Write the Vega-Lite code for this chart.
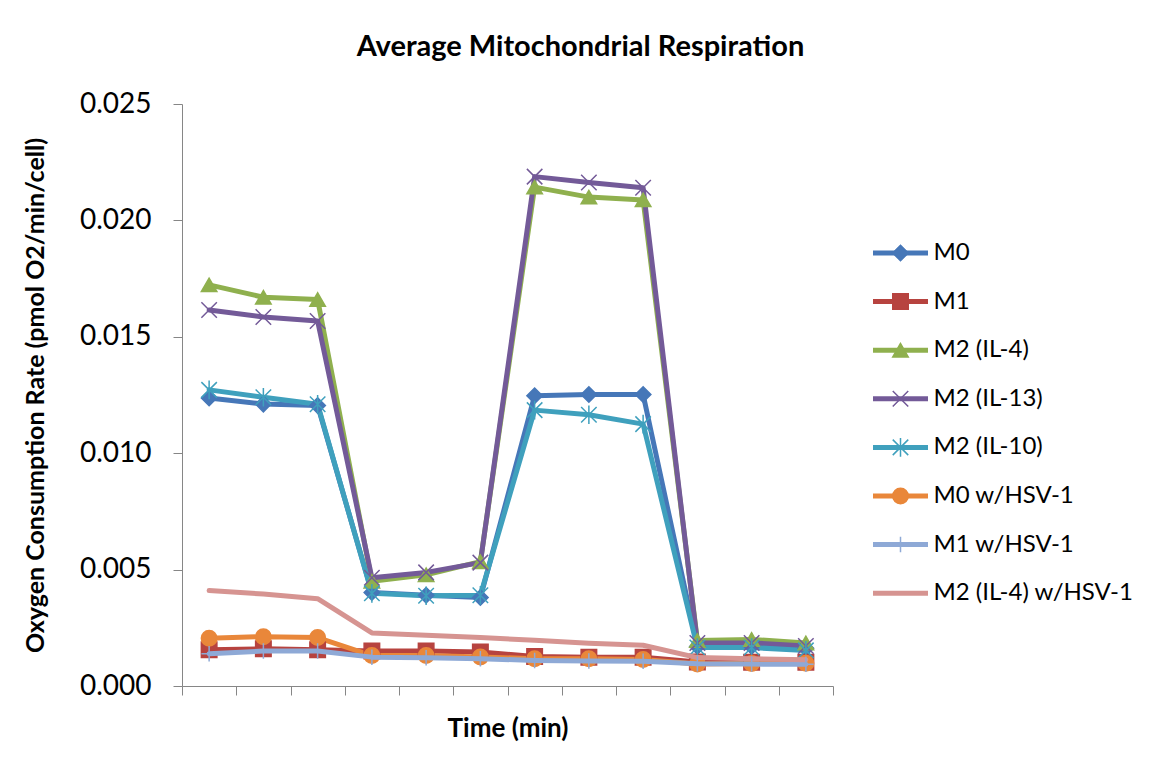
{
  "$schema": "https://vega.github.io/schema/vega-lite/v6.json",
  "width": 651,
  "height": 582,
  "autosize": "none",
  "padding": {"left": 182, "top": 104, "right": 322, "bottom": 86},
  "background": "white",
  "title": {"text": "Average Mitochondrial Respiration", "font": "Lato", "fontSize": 29, "fontWeight": "bold", "color": "#000000", "anchor": "middle", "dx": 73, "offset": 28},
  "data": {"values": [
    {"s": "M0", "t": 1, "v": 0.01237}, {"s": "M0", "t": 2, "v": 0.01211}, {"s": "M0", "t": 3, "v": 0.01205}, {"s": "M0", "t": 4, "v": 0.00402}, {"s": "M0", "t": 5, "v": 0.0039}, {"s": "M0", "t": 6, "v": 0.0038}, {"s": "M0", "t": 7, "v": 0.01247}, {"s": "M0", "t": 8, "v": 0.01252}, {"s": "M0", "t": 9, "v": 0.01252}, {"s": "M0", "t": 10, "v": 0.0017}, {"s": "M0", "t": 11, "v": 0.0017}, {"s": "M0", "t": 12, "v": 0.00162},
    {"s": "M1", "t": 1, "v": 0.00156}, {"s": "M1", "t": 2, "v": 0.0016}, {"s": "M1", "t": 3, "v": 0.00156}, {"s": "M1", "t": 4, "v": 0.0015}, {"s": "M1", "t": 5, "v": 0.0015}, {"s": "M1", "t": 6, "v": 0.00146}, {"s": "M1", "t": 7, "v": 0.00127}, {"s": "M1", "t": 8, "v": 0.00124}, {"s": "M1", "t": 9, "v": 0.00124}, {"s": "M1", "t": 10, "v": 0.00103}, {"s": "M1", "t": 11, "v": 0.00102}, {"s": "M1", "t": 12, "v": 0.00102},
    {"s": "M2 (IL-4)", "t": 1, "v": 0.01723}, {"s": "M2 (IL-4)", "t": 2, "v": 0.0167}, {"s": "M2 (IL-4)", "t": 3, "v": 0.0166}, {"s": "M2 (IL-4)", "t": 4, "v": 0.0045}, {"s": "M2 (IL-4)", "t": 5, "v": 0.00478}, {"s": "M2 (IL-4)", "t": 6, "v": 0.00534}, {"s": "M2 (IL-4)", "t": 7, "v": 0.02143}, {"s": "M2 (IL-4)", "t": 8, "v": 0.021}, {"s": "M2 (IL-4)", "t": 9, "v": 0.02088}, {"s": "M2 (IL-4)", "t": 10, "v": 0.00195}, {"s": "M2 (IL-4)", "t": 11, "v": 0.002}, {"s": "M2 (IL-4)", "t": 12, "v": 0.00185},
    {"s": "M2 (IL-13)", "t": 1, "v": 0.01615}, {"s": "M2 (IL-13)", "t": 2, "v": 0.01585}, {"s": "M2 (IL-13)", "t": 3, "v": 0.01568}, {"s": "M2 (IL-13)", "t": 4, "v": 0.00465}, {"s": "M2 (IL-13)", "t": 5, "v": 0.00488}, {"s": "M2 (IL-13)", "t": 6, "v": 0.0053}, {"s": "M2 (IL-13)", "t": 7, "v": 0.02188}, {"s": "M2 (IL-13)", "t": 8, "v": 0.02163}, {"s": "M2 (IL-13)", "t": 9, "v": 0.0214}, {"s": "M2 (IL-13)", "t": 10, "v": 0.00185}, {"s": "M2 (IL-13)", "t": 11, "v": 0.00185}, {"s": "M2 (IL-13)", "t": 12, "v": 0.00172},
    {"s": "M2 (IL-10)", "t": 1, "v": 0.01272}, {"s": "M2 (IL-10)", "t": 2, "v": 0.0124}, {"s": "M2 (IL-10)", "t": 3, "v": 0.0121}, {"s": "M2 (IL-10)", "t": 4, "v": 0.00398}, {"s": "M2 (IL-10)", "t": 5, "v": 0.00388}, {"s": "M2 (IL-10)", "t": 6, "v": 0.0039}, {"s": "M2 (IL-10)", "t": 7, "v": 0.01185}, {"s": "M2 (IL-10)", "t": 8, "v": 0.01165}, {"s": "M2 (IL-10)", "t": 9, "v": 0.01125}, {"s": "M2 (IL-10)", "t": 10, "v": 0.00165}, {"s": "M2 (IL-10)", "t": 11, "v": 0.00165}, {"s": "M2 (IL-10)", "t": 12, "v": 0.00153},
    {"s": "M0 w/HSV-1", "t": 1, "v": 0.00205}, {"s": "M0 w/HSV-1", "t": 2, "v": 0.00212}, {"s": "M0 w/HSV-1", "t": 3, "v": 0.00208}, {"s": "M0 w/HSV-1", "t": 4, "v": 0.00131}, {"s": "M0 w/HSV-1", "t": 5, "v": 0.00131}, {"s": "M0 w/HSV-1", "t": 6, "v": 0.00125}, {"s": "M0 w/HSV-1", "t": 7, "v": 0.00117}, {"s": "M0 w/HSV-1", "t": 8, "v": 0.00117}, {"s": "M0 w/HSV-1", "t": 9, "v": 0.00114}, {"s": "M0 w/HSV-1", "t": 10, "v": 0.00095}, {"s": "M0 w/HSV-1", "t": 11, "v": 0.00097}, {"s": "M0 w/HSV-1", "t": 12, "v": 0.00098},
    {"s": "M1 w/HSV-1", "t": 1, "v": 0.00139}, {"s": "M1 w/HSV-1", "t": 2, "v": 0.0015}, {"s": "M1 w/HSV-1", "t": 3, "v": 0.0015}, {"s": "M1 w/HSV-1", "t": 4, "v": 0.00124}, {"s": "M1 w/HSV-1", "t": 5, "v": 0.00121}, {"s": "M1 w/HSV-1", "t": 6, "v": 0.00117}, {"s": "M1 w/HSV-1", "t": 7, "v": 0.0011}, {"s": "M1 w/HSV-1", "t": 8, "v": 0.00107}, {"s": "M1 w/HSV-1", "t": 9, "v": 0.00106}, {"s": "M1 w/HSV-1", "t": 10, "v": 0.00096}, {"s": "M1 w/HSV-1", "t": 11, "v": 0.00094}, {"s": "M1 w/HSV-1", "t": 12, "v": 0.00093},
    {"s": "M2 (IL-4) w/HSV-1", "t": 1, "v": 0.0041}, {"s": "M2 (IL-4) w/HSV-1", "t": 2, "v": 0.00395}, {"s": "M2 (IL-4) w/HSV-1", "t": 3, "v": 0.00375}, {"s": "M2 (IL-4) w/HSV-1", "t": 4, "v": 0.00228}, {"s": "M2 (IL-4) w/HSV-1", "t": 5, "v": 0.00218}, {"s": "M2 (IL-4) w/HSV-1", "t": 6, "v": 0.00208}, {"s": "M2 (IL-4) w/HSV-1", "t": 7, "v": 0.00196}, {"s": "M2 (IL-4) w/HSV-1", "t": 8, "v": 0.00184}, {"s": "M2 (IL-4) w/HSV-1", "t": 9, "v": 0.00175}, {"s": "M2 (IL-4) w/HSV-1", "t": 10, "v": 0.00122}, {"s": "M2 (IL-4) w/HSV-1", "t": 11, "v": 0.00117}, {"s": "M2 (IL-4) w/HSV-1", "t": 12, "v": 0.00113}
  ]},
  "encoding": {
    "x": {"field": "t", "type": "quantitative", "scale": {"domain": [0.5, 12.5], "nice": false, "zero": false},
      "axis": {"values": [0.5, 1.5, 2.5, 3.5, 4.5, 5.5, 6.5, 7.5, 8.5, 9.5, 10.5, 11.5, 12.5], "labels": false, "tickSize": 9, "title": "Time (min)", "titleFontSize": 26, "titleFontWeight": "bold", "titlePadding": 20}},
    "y": {"field": "v", "type": "quantitative", "scale": {"domain": [0, 0.025], "nice": false},
      "axis": {"values": [0, 0.005, 0.01, 0.015, 0.02, 0.025], "format": ".3f", "labelFontSize": 28, "tickSize": 9, "labelPadding": 22, "title": "Oxygen Consumption Rate (pmol O2/min/cell)", "titleFontSize": 25, "titleFontWeight": "bold", "titleX": -147, "titleY": 291, "titleAngle": -90, "titleAlign": "center", "titleBaseline": "middle"}}
  },
  "layer": [
    {
      "transform": [{"filter": {"field": "s", "oneOf": ["M0", "M1", "M2 (IL-4)", "M2 (IL-13)", "M2 (IL-10)", "M0 w/HSV-1"]}}],
      "mark": {"type": "line", "strokeWidth": 5, "strokeJoin": "round", "strokeCap": "round"},
      "encoding": {
        "color": {"field": "s", "type": "nominal",
          "scale": {"domain": ["M0", "M1", "M2 (IL-4)", "M2 (IL-13)", "M2 (IL-10)", "M0 w/HSV-1", "M1 w/HSV-1", "M2 (IL-4) w/HSV-1"],
                    "range": ["#4677B8", "#B7433F", "#8FB04E", "#735A98", "#3FA0BD", "#E9873A", "#8EA9D6", "#D69491"]},
          "legend": {"orient": "none", "legendX": 688.5, "legendY": 134, "title": null, "symbolType": "stroke", "symbolSize": 3025, "symbolStrokeWidth": 5, "labelFontSize": 24, "labelFont": "Lato", "labelColor": "#000000", "labelOffset": 3, "labelLimit": 0, "clipHeight": 30, "rowPadding": 18.6, "padding": 0, "zindex": 0}}
      }
    },
    {
      "transform": [{"filter": {"field": "s", "oneOf": ["M0", "M1", "M2 (IL-4)", "M2 (IL-13)", "M2 (IL-10)", "M0 w/HSV-1"]}}],
      "mark": {"type": "point", "filled": true, "opacity": 1, "size": 240, "strokeWidth": 1.5},
      "encoding": {
        "shape": {"field": "s", "type": "nominal",
          "scale": {"domain": ["M0", "M1", "M2 (IL-4)", "M2 (IL-13)", "M2 (IL-10)", "M0 w/HSV-1", "M1 w/HSV-1"],
                    "range": ["diamond", "square", "triangle-up", "M-1,-1L1,1M-1,1L1,-1", "M-1,-1L1,1M-1,1L1,-1M0,-1.2L0,1.2", "circle", "M0,-1L0,1M-1,0L1,0"]},
          "legend": {"orient": "none", "legendX": 706.5, "legendY": 134, "title": null, "symbolSize": 240, "symbolStrokeWidth": 1.5, "labelFontSize": 24, "labelFont": "Lato", "labelExpr": "''", "clipHeight": 30, "rowPadding": 18.6, "padding": 0, "zindex": 1}},
        "fill": {"field": "s", "type": "nominal",
          "scale": {"domain": ["M0", "M1", "M2 (IL-4)", "M2 (IL-13)", "M2 (IL-10)", "M0 w/HSV-1", "M1 w/HSV-1"],
                    "range": ["#4677B8", "#B7433F", "#8FB04E", "transparent", "transparent", "#E9873A", "transparent"]}},
        "stroke": {"field": "s", "type": "nominal",
          "scale": {"domain": ["M0", "M1", "M2 (IL-4)", "M2 (IL-13)", "M2 (IL-10)", "M0 w/HSV-1", "M1 w/HSV-1"],
                    "range": ["#4677B8", "#B7433F", "#8FB04E", "#735A98", "#3FA0BD", "#E9873A", "#8EA9D6"]}}
      }
    },
    {
      "transform": [{"filter": {"field": "s", "oneOf": ["M1 w/HSV-1", "M2 (IL-4) w/HSV-1"]}}],
      "mark": {"type": "line", "strokeWidth": 5, "strokeJoin": "round", "strokeCap": "round"},
      "encoding": {
        "color": {"field": "s", "type": "nominal",
          "scale": {"domain": ["M0", "M1", "M2 (IL-4)", "M2 (IL-13)", "M2 (IL-10)", "M0 w/HSV-1", "M1 w/HSV-1", "M2 (IL-4) w/HSV-1"],
                    "range": ["#4677B8", "#B7433F", "#8FB04E", "#735A98", "#3FA0BD", "#E9873A", "#8EA9D6", "#D69491"]}}
      }
    },
    {
      "transform": [{"filter": {"field": "s", "oneOf": ["M1 w/HSV-1"]}}],
      "mark": {"type": "point", "filled": true, "opacity": 1, "size": 240, "strokeWidth": 1.5},
      "encoding": {
        "shape": {"field": "s", "type": "nominal",
          "scale": {"domain": ["M0", "M1", "M2 (IL-4)", "M2 (IL-13)", "M2 (IL-10)", "M0 w/HSV-1", "M1 w/HSV-1"],
                    "range": ["diamond", "square", "triangle-up", "M-1,-1L1,1M-1,1L1,-1", "M-1,-1L1,1M-1,1L1,-1M0,-1.2L0,1.2", "circle", "M0,-1L0,1M-1,0L1,0"]}},
        "fill": {"field": "s", "type": "nominal",
          "scale": {"domain": ["M0", "M1", "M2 (IL-4)", "M2 (IL-13)", "M2 (IL-10)", "M0 w/HSV-1", "M1 w/HSV-1"],
                    "range": ["#4677B8", "#B7433F", "#8FB04E", "transparent", "transparent", "#E9873A", "transparent"]}},
        "stroke": {"field": "s", "type": "nominal",
          "scale": {"domain": ["M0", "M1", "M2 (IL-4)", "M2 (IL-13)", "M2 (IL-10)", "M0 w/HSV-1", "M1 w/HSV-1"],
                    "range": ["#4677B8", "#B7433F", "#8FB04E", "#735A98", "#3FA0BD", "#E9873A", "#8EA9D6"]}}
      }
    }
  ],
  "config": {
    "view": {"stroke": null},
    "axis": {"grid": false, "domainColor": "#868686", "tickColor": "#868686", "labelFont": "Lato", "titleFont": "Lato", "labelColor": "#000000", "titleColor": "#000000"},
    "legend": {"labelFont": "Lato"}
  }
}
